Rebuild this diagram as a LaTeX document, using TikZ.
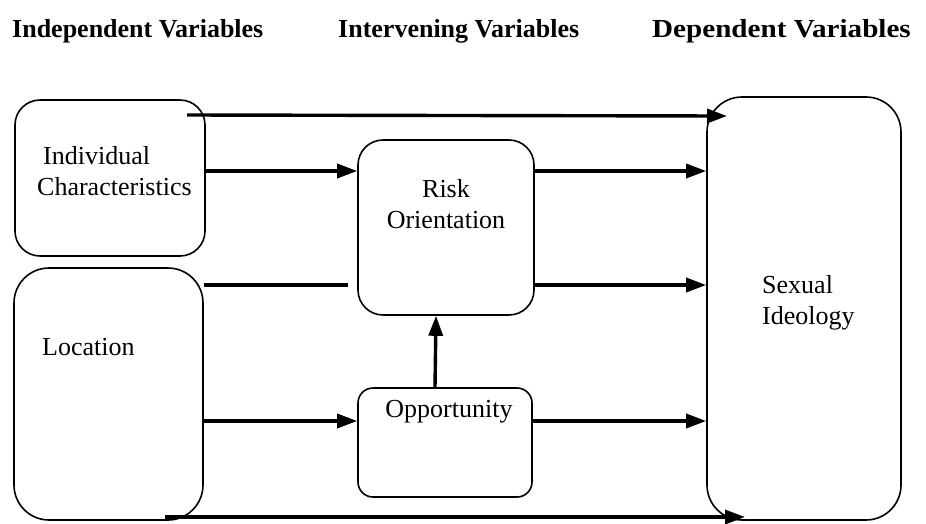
\documentclass[tikz,border=0pt]{standalone}
\usepackage{fontspec}
\setmainfont{Liberation Serif}
\usetikzlibrary{arrows.meta}

\tikzset{
  box/.style={draw, line width=1.6pt, rounded corners=#1, inner sep=0pt},
  box/.default=25pt,
  txt/.style={inner sep=0pt, font=\fontsize{26}{31}\selectfont},
  head/.style={inner sep=0pt, font=\fontsize{26}{31}\selectfont\bfseries},
  arr/.style={line width=3.4pt, -{Triangle[length=20pt,width=14pt]}},
  link/.style={line width=3.4pt}
}

\begin{document}
\begin{tikzpicture}[x=1pt,y=-1pt]
\useasboundingbox (0,0) rectangle (926,523);

% column titles
\node[head, anchor=base west] (hind) at (12,37) {Independent Variables};
\node[head, anchor=base west] (hint) at (338,37) {Intervening Variables};
\node[head, anchor=base west] (hdep) at (652,37) {\scalebox{1.12}[1]{Dependent Variables}};

% boxes
\node[box, minimum width=190pt, minimum height=156pt] (indiv) at (110,178) {};
\node[box=35pt, minimum width=189pt, minimum height=252pt] (loc) at (108.5,394) {};
\node[box, minimum width=176pt, minimum height=175pt] (risk) at (446,227.5) {};
\node[box=15pt, minimum width=174pt, minimum height=109pt] (opp) at (445,442.5) {};
\node[box=35pt, minimum width=194pt, minimum height=423pt] (sex) at (804,308.5) {};

\node[txt, anchor=base west, align=left] (indivtxt) at (37,195) {\hspace{6pt}Individual\\Characteristics};
\node[txt, anchor=base west] (loctxt) at (42,355) {Location};
\node[txt, anchor=base, align=center] (risktxt) at (446,228) {Risk\\Orientation};
\node[txt, anchor=base] (opptxt) at (449,417) {Opportunity};
\node[txt, anchor=base west, align=left] (sextxt) at (762,324) {Sexual\\Ideology};

% arrows
\coordinate (topstart) at (187,115);
\coordinate (topend) at (727,116);
\draw[arr] (topstart) -- (topend);
\draw[arr] (indiv.east |- 0,171) -- (risk.west |- 0,171);
\coordinate (locend) at (348,285);
\draw[link] (loc.east |- locend) -- (locend);
\draw[arr] (risk.east |- 0,171) -- (sex.west |- 0,171);
\draw[arr] (risk.east |- locend) -- (sex.west |- locend);
\draw[arr] ([xshift=-10pt]opp.north) -- ([xshift=-10pt]risk.south);
\draw[arr] (loc.east |- 0,421) -- (opp.west |- 0,421);
\draw[arr] (opp.east |- 0,421) -- (sex.west |- 0,421);
\coordinate (botstart) at (165,517);
\coordinate (botend) at (745,517);
\draw[arr] (botstart) -- (botend);

\end{tikzpicture}
\end{document}
